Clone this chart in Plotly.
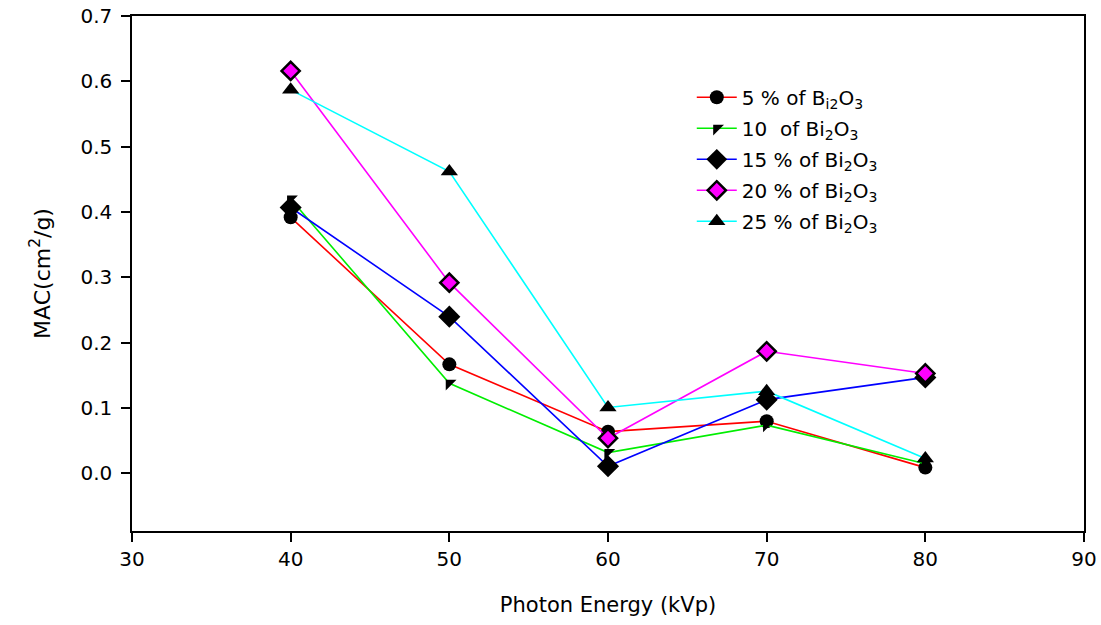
import plotly.graph_objects as go

energy = [40, 50, 60, 70, 80]
mac_5 = [0.392, 0.167, 0.064, 0.080, 0.009]
mac_10 = [0.420, 0.138, 0.032, 0.074, 0.015]
mac_15 = [0.407, 0.240, 0.011, 0.113, 0.147]
mac_20 = [0.616, 0.292, 0.054, 0.187, 0.153]
mac_25 = [0.587, 0.462, 0.101, 0.126, 0.023]

names = [
    "5 % of B<sub>i2</sub>O<sub>3</sub>",
    "10  of Bi<sub>2</sub>O<sub>3</sub>",
    "15 % of Bi<sub>2</sub>O<sub>3</sub>",
    "20 % of Bi<sub>2</sub>O<sub>3</sub>",
    "25 % of Bi<sub>2</sub>O<sub>3</sub>",
]
series = [mac_5, mac_10, mac_15, mac_20, mac_25]
line_colors = ["#ff0000", "#00ee00", "#0000ff", "#ff00ff", "#00ffff"]
symbols = ["circle", "triangle-nw", "diamond", "diamond", "triangle-up"]
fills = ["black", "black", "black", "#ff00ff", "black"]
outline_w = [0, 0, 0, 2.5, 0]
sizes = [14, 12, 17, 14, 15]

FONT = "DejaVu Sans, Liberation Sans, Arial, sans-serif"

fig = go.Figure()
for i in range(5):
    fig.add_trace(go.Scatter(
        x=energy, y=series[i], name=names[i], mode="lines+markers",
        legendgroup="g%d" % i,
        line=dict(color=line_colors[i], width=1.6),
        marker=dict(symbol=symbols[i], color=fills[i], size=sizes[i],
                    line=dict(color="black", width=outline_w[i])),
    ))

fig.update_layout(
    width=1101, height=625,
    paper_bgcolor="white", plot_bgcolor="white",
    margin=dict(l=132, r=17, t=16, b=94),
    font=dict(family=FONT, color="black", size=20),
    showlegend=True,
    legend=dict(x=0.588, y=0.88, xanchor="left", yanchor="top",
                bgcolor="rgba(0,0,0,0)", font=dict(family=FONT, size=20, color="black"),
                tracegroupgap=2, itemwidth=40),
)
fig.update_xaxes(
    range=[30, 90], dtick=10, tick0=30, automargin=False,
    showline=True, linecolor="black", linewidth=1.5, mirror=True,
    ticks="outside", ticklen=9, tickcolor="black", tickwidth=1.5,
    showgrid=False, zeroline=False, ticklabelstandoff=0,
    title=dict(text="Photon Energy (kVp)", font=dict(family=FONT, size=21), standoff=28),
    tickfont=dict(family=FONT, size=20),
)
fig.update_yaxes(
    range=[-0.088, 0.7], dtick=0.1, tick0=0, tickformat=".1f", automargin=False,
    showline=True, linecolor="black", linewidth=1.5, mirror=True,
    ticks="outside", ticklen=9, tickcolor="black", tickwidth=1.5,
    showgrid=False, zeroline=False, ticklabelstandoff=5,
    title=dict(text="MAC(cm<sup>2</sup>/g)", font=dict(family=FONT, size=22), standoff=24),
    tickfont=dict(family=FONT, size=20),
)

fig.write_html("out.html", config={"displayModeBar": False},
               post_script="document.body.style.margin='0px';document.body.style.padding='0px';")
